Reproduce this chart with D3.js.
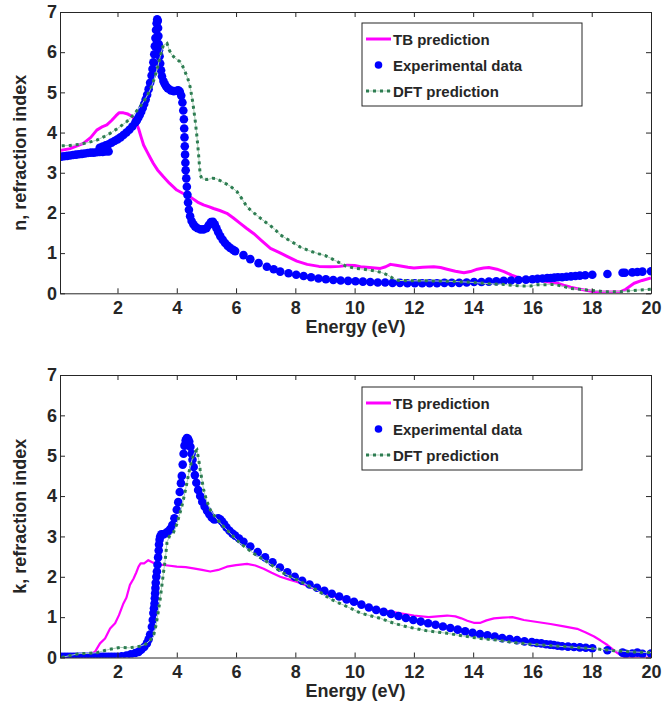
<!DOCTYPE html>
<html>
<head>
	<meta charset="utf-8">
	<title>n and k</title>
	<script src="https://d3js.org/d3.v7.min.js"></script>
	<style>
		html, body { margin: 0; background: #fff; }
		text { font-family: "Liberation Sans", Arial, sans-serif; font-weight: bold; fill: #262626; }
	</style>
</head>
<body>
	<svg id="svg"></svg>
	<script>
		// ---- data (energy in eV, value) ----
		const xTicks = [2, 4, 6, 8, 10, 12, 14, 16, 18, 20];
		const yTicks = [0, 1, 2, 3, 4, 5, 6, 7];
		const legendNames = ["TB prediction", "Experimental data", "DFT prediction"];

		const tbN = [[0.06,3.55],[0.4,3.60],[0.85,3.73],[1.1,3.88],[1.3,4.06],[1.5,4.15],[1.64,4.19],[1.8,4.30],[1.95,4.42],[2.05,4.49],[2.2,4.49],[2.35,4.46],[2.5,4.40],[2.6,4.30],[2.71,4.10],[2.8,3.88],[2.88,3.69],[3.0,3.52],[3.1,3.38],[3.21,3.23],[3.35,3.07],[3.55,2.90],[3.75,2.74],[4.0,2.57],[4.2,2.49],[4.45,2.40],[4.7,2.27],[4.9,2.20],[5.1,2.15],[5.24,2.11],[5.45,2.06],[5.69,1.99],[5.9,1.88],[6.14,1.74],[6.35,1.62],[6.59,1.49],[6.85,1.32],[7.16,1.12],[7.45,1.02],[7.72,0.92],[8.05,0.80],[8.4,0.72],[8.8,0.67],[9.18,0.66],[9.5,0.67],[9.75,0.70],[10.0,0.69],[10.2,0.66],[10.5,0.64],[10.87,0.62],[11.05,0.66],[11.21,0.72],[11.4,0.70],[11.55,0.68],[11.8,0.65],[12.0,0.63],[12.3,0.65],[12.67,0.66],[12.9,0.64],[13.12,0.60],[13.4,0.55],[13.69,0.51],[13.91,0.54],[14.14,0.60],[14.35,0.63],[14.53,0.64],[14.8,0.60],[15.04,0.54],[15.3,0.45],[15.6,0.37],[15.9,0.34],[16.16,0.33],[16.5,0.29],[16.84,0.25],[17.05,0.20],[17.29,0.15],[17.55,0.11],[17.85,0.07],[18.1,0.04],[18.4,0.03],[18.7,0.03],[18.98,0.04],[19.15,0.10],[19.3,0.18],[19.43,0.25],[19.7,0.32],[20.0,0.38]];

		const expN = [[0.1,3.40],[0.2,3.41],[0.3,3.42],[0.4,3.43],[0.5,3.44],[0.6,3.45],[0.7,3.46],[0.8,3.47],[0.9,3.48],[1.0,3.49],[1.1,3.50],[1.2,3.50],[1.3,3.51],[1.4,3.52],[1.5,3.52],[1.6,3.53],[1.7,3.53],
			[1.4,3.62],[1.5,3.65],[1.6,3.68],[1.7,3.71],[1.8,3.75],[1.9,3.79],[2.0,3.83],[2.1,3.88],[2.2,3.94],[2.3,4.00],[2.4,4.07],[2.5,4.15],[2.6,4.25],[2.65,4.30],[2.7,4.37],[2.75,4.44],[2.8,4.52],[2.85,4.61],[2.9,4.71],[2.95,4.82],[3.0,4.94],[3.05,5.08],[3.1,5.24],[3.15,5.42],[3.18,5.58],[3.21,5.75],[3.24,5.95],[3.26,6.15],[3.28,6.35],[3.3,6.55],[3.32,6.72],[3.34,6.82],[3.36,6.78],[3.37,6.60],[3.38,6.40],[3.39,6.20],[3.4,6.05],[3.42,5.90],[3.44,5.72],[3.47,5.55],[3.5,5.40],[3.55,5.28],[3.6,5.20],[3.65,5.14],[3.7,5.10],[3.8,5.05],[3.9,5.03],[4.0,5.04],[4.05,5.05],[4.1,5.02],[4.15,4.92],[4.19,4.75],[4.22,4.55],[4.24,4.33],[4.25,4.10],[4.26,3.88],[4.27,3.66],[4.28,3.45],[4.29,3.25],[4.3,3.06],[4.32,2.86],[4.34,2.65],[4.36,2.45],[4.38,2.26],[4.41,2.08],[4.45,1.92],[4.5,1.80],[4.56,1.72],[4.62,1.66],[4.7,1.62],[4.8,1.59],[4.9,1.59],[5.0,1.62],[5.08,1.70],[5.15,1.77],[5.22,1.78],[5.28,1.72],[5.34,1.62],[5.4,1.52],[5.47,1.42],[5.55,1.33],[5.63,1.25],[5.72,1.18],[5.8,1.13],[5.9,1.08],[5.97,1.05],
			[6.25,0.95],[6.48,0.85],[6.76,0.75],[7.04,0.66],[7.27,0.60],[7.49,0.54],[7.77,0.50],[8.03,0.46],[8.28,0.43],[8.53,0.40],[8.78,0.37],[9.03,0.35],[9.28,0.33],[9.53,0.32],[9.78,0.31],[10.03,0.30],[10.28,0.29],[10.53,0.28],[10.78,0.27],[11.03,0.27],[11.28,0.26],[11.53,0.26],[11.78,0.25],[12.03,0.25],[12.28,0.25],[12.53,0.25],[12.78,0.25],[13.03,0.26],[13.28,0.26],[13.53,0.26],[13.78,0.27],[14.03,0.28],[14.28,0.28],[14.53,0.29],[14.78,0.30],[15.03,0.31],[15.28,0.32],[15.53,0.33],[15.78,0.34],[16.0,0.35],[16.17,0.36],[16.34,0.37],[16.5,0.38],[16.62,0.38],[16.74,0.39],[16.86,0.40],[17.0,0.40],[17.15,0.41],[17.3,0.42],[17.45,0.43],[17.6,0.44],[17.78,0.45],[18.02,0.46],[18.53,0.48],[19.04,0.51],[19.12,0.51],[19.37,0.52],[19.54,0.53],[19.71,0.54],[20.0,0.55]];

		const dftN = [[0.12,3.67],[0.4,3.68],[0.74,3.71],[1.0,3.75],[1.3,3.81],[1.55,3.90],[1.75,3.98],[2.0,4.10],[2.31,4.27],[2.55,4.45],[2.76,4.64],[2.95,4.85],[3.1,5.06],[3.2,5.25],[3.33,5.55],[3.44,5.89],[3.55,6.18],[3.67,6.22],[3.75,6.05],[3.83,5.93],[3.95,5.85],[4.11,5.76],[4.2,5.65],[4.28,5.51],[4.37,5.35],[4.45,5.14],[4.54,4.75],[4.62,4.31],[4.68,3.90],[4.73,3.50],[4.79,2.95],[4.85,2.85],[5.02,2.83],[5.2,2.86],[5.35,2.85],[5.55,2.77],[5.8,2.67],[6.03,2.53],[6.2,2.35],[6.37,2.15],[6.6,2.00],[6.82,1.87],[7.05,1.74],[7.27,1.62],[7.5,1.45],[7.72,1.35],[7.95,1.25],[8.17,1.15],[8.5,1.05],[8.8,0.98],[9.0,0.94],[9.2,0.87],[9.41,0.79],[9.7,0.68],[9.97,0.63],[10.3,0.60],[10.65,0.56],[10.9,0.52],[11.1,0.46],[11.32,0.36],[11.49,0.32],[12.0,0.31],[12.5,0.31],[13.12,0.30],[13.5,0.29],[14.0,0.27],[14.5,0.24],[15.04,0.22],[15.6,0.18],[15.94,0.18],[16.16,0.21],[16.73,0.22],[17.0,0.18],[17.29,0.12],[17.6,0.10],[17.85,0.08],[18.19,0.06],[18.4,0.04],[18.98,0.04],[19.54,0.08],[20.0,0.10]];

		const tbK = [[0.06,0.0],[0.5,0.01],[0.96,0.06],[1.1,0.09],[1.24,0.14],[1.41,0.35],[1.58,0.47],[1.75,0.72],[1.92,0.85],[2.05,1.05],[2.2,1.34],[2.3,1.48],[2.42,1.80],[2.54,1.95],[2.63,2.10],[2.71,2.25],[2.78,2.33],[2.9,2.33],[3.04,2.41],[3.2,2.35],[3.44,2.30],[3.7,2.28],[4.0,2.25],[4.3,2.24],[4.56,2.21],[4.85,2.17],[5.13,2.13],[5.4,2.17],[5.69,2.25],[6.0,2.29],[6.37,2.32],[6.65,2.28],[6.93,2.20],[7.2,2.10],[7.49,2.00],[7.8,1.93],[8.06,1.87],[8.35,1.79],[8.62,1.71],[8.9,1.63],[9.18,1.55],[9.5,1.46],[9.86,1.38],[10.2,1.30],[10.5,1.24],[10.87,1.18],[11.2,1.14],[11.6,1.09],[12.0,1.04],[12.5,1.00],[12.8,1.02],[13.12,1.04],[13.4,1.02],[13.6,0.97],[13.8,0.91],[14.02,0.86],[14.25,0.86],[14.45,0.92],[14.7,0.97],[15.0,0.99],[15.32,1.00],[15.5,0.97],[15.71,0.93],[16.16,0.88],[16.61,0.83],[17.06,0.77],[17.51,0.71],[17.8,0.62],[18.08,0.52],[18.3,0.42],[18.53,0.31],[18.7,0.21],[18.87,0.11],[19.09,0.01],[19.5,0.0],[20.0,0.0]];

		const expK = [[0.1,0.02],[0.2,0.02],[0.3,0.02],[0.4,0.02],[0.5,0.02],[0.6,0.02],[0.7,0.02],[0.8,0.02],[0.9,0.02],[1.0,0.02],[1.1,0.02],[1.2,0.02],[1.3,0.02],[1.4,0.02],[1.5,0.02],[1.6,0.02],[1.7,0.02],[1.8,0.02],[1.9,0.02],[2.0,0.02],[2.14,0.03],[2.3,0.05],[2.45,0.08],[2.6,0.11],[2.71,0.14],[2.8,0.19],[2.9,0.26],[2.99,0.35],[3.05,0.45],[3.1,0.57],[3.16,0.76],[3.19,0.93],[3.21,1.10],[3.23,1.22],[3.25,1.34],[3.26,1.47],[3.27,1.59],[3.28,1.72],[3.29,1.85],[3.31,2.00],[3.33,2.13],[3.35,2.30],[3.37,2.48],[3.39,2.65],[3.4,2.80],[3.42,2.92],[3.44,3.00],[3.48,3.05],[3.55,3.05],[3.62,3.08],[3.7,3.12],[3.78,3.18],[3.85,3.28],[3.92,3.45],[4.0,3.66],[4.05,3.85],[4.1,4.10],[4.14,4.32],[4.17,4.50],[4.2,4.78],[4.23,5.05],[4.26,5.25],[4.3,5.38],[4.34,5.44],[4.38,5.42],[4.42,5.35],[4.46,5.22],[4.5,5.05],[4.53,4.90],[4.57,4.72],[4.61,4.52],[4.66,4.33],[4.72,4.15],[4.79,4.00],[4.86,3.86],[4.94,3.74],[5.02,3.64],[5.1,3.55],[5.18,3.47],[5.26,3.42],[5.33,3.43],[5.4,3.45],[5.47,3.42],[5.53,3.37],[5.6,3.30],[5.68,3.22],[5.78,3.14],[5.88,3.07],[5.97,3.02],[6.1,2.95],[6.25,2.87],[6.48,2.75],[6.73,2.61],[6.98,2.48],[7.23,2.36],[7.48,2.23],[7.73,2.11],[7.98,2.00],[8.23,1.90],[8.48,1.81],[8.73,1.73],[8.98,1.65],[9.23,1.58],[9.48,1.51],[9.73,1.44],[9.98,1.38],[10.23,1.31],[10.48,1.24],[10.73,1.18],[10.98,1.13],[11.23,1.08],[11.48,1.03],[11.73,0.98],[11.98,0.93],[12.23,0.89],[12.48,0.85],[12.73,0.81],[12.98,0.77],[13.23,0.73],[13.48,0.69],[13.73,0.65],[13.98,0.61],[14.23,0.58],[14.48,0.55],[14.73,0.52],[14.98,0.48],[15.23,0.46],[15.48,0.43],[15.73,0.40],[15.98,0.38],[16.14,0.36],[16.3,0.35],[16.46,0.33],[16.6,0.32],[16.72,0.31],[16.85,0.29],[17.0,0.28],[17.2,0.27],[17.4,0.26],[17.6,0.25],[17.8,0.24],[18.02,0.23],[18.53,0.18],[19.04,0.12],[19.15,0.09],[19.37,0.10],[19.54,0.12],[19.71,0.09],[20.0,0.10]];

		const dftK = [[0.12,0.0],[0.4,0.05],[0.74,0.10],[1.0,0.10],[1.3,0.12],[1.6,0.18],[1.85,0.22],[2.09,0.25],[2.4,0.24],[2.76,0.28],[2.95,0.33],[3.1,0.43],[3.21,0.52],[3.3,0.80],[3.38,1.15],[3.44,1.45],[3.5,1.80],[3.55,2.10],[3.61,2.42],[3.67,2.85],[3.75,3.00],[3.89,3.10],[4.0,3.30],[4.17,3.74],[4.25,4.00],[4.34,4.32],[4.42,4.62],[4.51,4.89],[4.6,5.08],[4.68,5.14],[4.74,4.90],[4.79,4.65],[4.85,4.40],[4.9,4.18],[5.0,3.90],[5.13,3.66],[5.3,3.48],[5.47,3.33],[5.8,3.08],[6.14,2.83],[6.59,2.58],[7.04,2.37],[7.6,2.09],[8.17,1.88],[8.73,1.67],[9.18,1.45],[9.86,1.22],[10.2,1.10],[10.87,0.97],[11.32,0.85],[11.77,0.76],[12.45,0.66],[13.12,0.60],[13.69,0.53],[14.25,0.47],[14.81,0.43],[15.38,0.37],[15.94,0.33],[16.5,0.30],[17.06,0.27],[17.62,0.24],[18.19,0.21],[18.75,0.17],[19.32,0.14],[20.0,0.12]];

		// ---- layout ----
		const W = 663, H = 705;
		const magenta = "#ff00ff", blue = "#0000ff", green = "#2e7d52", lightGreen = "#a9cfb6", ink = "#262626";

		const svg = d3.select("#svg").attr("width", W).attr("height", H);

		const panels = [
			{ top: 12, bottom: 293.3, tb: tbN, exp: expN, dft: dftN, ylab: "n, refraction index", legY: 23, tbW: 3 },
			{ top: 375, bottom: 657.5, tb: tbK, exp: expK, dft: dftK, ylab: "k, refraction index", legY: 387, tbW: 2.2 }
		];
		const left = 60, right = 651;

		panels.forEach((p, i) => {
			const x = d3.scaleLinear().domain([0.06, 20]).range([left, right]);
			const y = d3.scaleLinear().domain([0, 7]).range([p.bottom, p.top]);
			const g = svg.append("g");

			g.append("clipPath").attr("id", "clip" + i)
			.append("rect")
			.attr("x", left).attr("y", p.top)
			.attr("width", right - left).attr("height", p.bottom - p.top);

			const plot = g.append("g").attr("clip-path", `url(#clip${i})`);

			const line = d3.line()
			.x(d => x(d[0]))
			.y(d => y(d[1]));

			plot.append("path")
			.attr("d", line(p.tb))
			.attr("fill", "none")
			.attr("stroke", magenta)
			.attr("stroke-width", p.tbW)
			.attr("stroke-linejoin", "round");

			plot.selectAll("circle")
			.data(p.exp)
			.enter()
			.append("circle")
			.attr("cx", d => x(d[0]))
			.attr("cy", d => y(d[1]))
			.attr("r", 4.3)
			.attr("fill", blue);

			plot.append("path")
			.attr("d", line(p.dft))
			.attr("fill", "none")
			.attr("stroke", lightGreen)
			.attr("stroke-width", 1);

			plot.append("path")
			.attr("d", line(p.dft))
			.attr("fill", "none")
			.attr("stroke", green)
			.attr("stroke-width", 3)
			.attr("stroke-dasharray", "3,4");

			// axes (ticks inside, box on)
			const ax = g.append("g").attr("transform", `translate(0,${p.bottom})`)
			.call(d3.axisBottom(x).tickValues(xTicks).tickSize(-5).tickSizeOuter(0).tickPadding(8).tickFormat(d3.format("d")));
			const ay = g.append("g").attr("transform", `translate(${left},0)`)
			.call(d3.axisLeft(y).tickValues(yTicks).tickSize(-5).tickSizeOuter(0).tickPadding(3).tickFormat(d3.format("d")));
			const at = g.append("g").attr("transform", `translate(0,${p.top})`)
			.call(d3.axisTop(x).tickValues(xTicks).tickSize(-5).tickSizeOuter(0).tickFormat(""));
			const ar = g.append("g").attr("transform", `translate(${right},0)`)
			.call(d3.axisRight(y).tickValues(yTicks).tickSize(-5).tickSizeOuter(0).tickFormat(""));

			[ax, ay, at, ar].forEach(a => {
				a.selectAll("path").attr("stroke", ink);
				a.selectAll("line").attr("stroke", ink);
				a.selectAll("text")
				.style("font-family", '"Liberation Sans", Arial, sans-serif')
				.style("font-weight", "bold")
				.style("font-size", "18px")
				.attr("fill", ink);
			});

			g.append("text")
			.attr("x", (left + right) / 2)
			.attr("y", p.bottom + 39.5)
			.attr("text-anchor", "middle")
			.style("font-size", "18px")
			.text("Energy (eV)");

			g.append("text")
			.attr("transform", "rotate(-90)")
			.attr("x", -(p.top + p.bottom) / 2)
			.attr("y", 26)
			.attr("text-anchor", "middle")
			.style("font-size", "18px")
			.text(p.ylab);

			// legend
			const lg = g.append("g").attr("transform", `translate(362,${p.legY})`);
			lg.append("rect")
			.attr("width", 220).attr("height", 83)
			.attr("fill", "#fff").attr("stroke", ink).attr("stroke-width", 1);
			const rows = [16, 42, 68];
			lg.append("line")
			.attr("x1", 4).attr("x2", 29).attr("y1", rows[0]).attr("y2", rows[0])
			.attr("stroke", magenta).attr("stroke-width", 3);
			lg.append("circle")
			.attr("cx", 16.5).attr("cy", rows[1]).attr("r", 3.8).attr("fill", blue);
			lg.append("line")
			.attr("x1", 4).attr("x2", 29).attr("y1", rows[2]).attr("y2", rows[2])
			.attr("stroke", lightGreen).attr("stroke-width", 1);
			lg.append("line")
			.attr("x1", 4).attr("x2", 29).attr("y1", rows[2]).attr("y2", rows[2])
			.attr("stroke", green).attr("stroke-width", 3).attr("stroke-dasharray", "3,4");
			lg.selectAll("text.leg")
			.data(legendNames)
			.enter()
			.append("text")
			.attr("class", "leg")
			.attr("x", 31)
			.attr("y", (d, j) => rows[j] + 5.5)
			.style("font-size", "15px")
			.text(d => d);
		});
	</script>
</body>
</html>
